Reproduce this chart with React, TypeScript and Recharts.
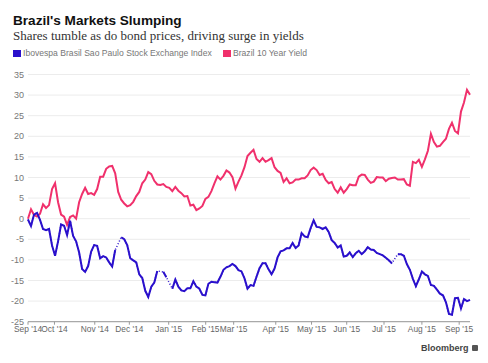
import React from 'react';
import { LineChart, Line, XAxis, YAxis, CartesianGrid } from 'recharts';

// % change since start, sampled along the time axis (one value per step)
const ibovespa = [
  -0.2, -1.8, 1.0, 1.4, -0.3, -2.5, -2.8, -2.5, -6.5, -9,
  -5.5, -1.4, -1.7, -4, -0.5, -4.2, -5.5, -8.2, -12.2, -12.9,
  -11.5, -8, -6.4, -6.6, -9.6, -9.1, -9.4, -10.6, -11.6, -7.6,
  null, -4.5, -5, -6.4, -9.6, -10.1, -10.6, -13.5, -14.4, -17.5,
  -19, -16.5, -15.5, -12.7, null, -12.9, -14.2, null, -17, -14.8,
  -16.5, -17.4, -17.6, -16.9, -16.9, -15.2, -16.5, -17, -18.5, -18.6,
  -15.8, -15.3, -15.4, -15.5, -14.1, -12.4, -11.8, -11.5, -11, -11.5,
  -12.5, -12.8, -14.5, -17, -16.1, -16.3, -14.1, -12, -10.8, -10.8,
  -12.3, -13.5, -12.1, -9.4, -7.9, -7.7, -7.2, -7.2, -5.9, -7.1,
  -6.5, -3.5, -4.3, -4.5, -2.3, -0.4, -2, -2.1, -2.5, -2.1,
  -3.2, -5.2, -5.9, -7, -6.5, -9.2, -9, -8.2, -9.3, -8.4,
  -7.8, -8.6, -7.9, -6.9, -7.5, -7.6, -8.3, -8.6, -8.9, -9.5,
  -10.1, -10.8, null, -8.6, -8.6, -9, -11, -12.4, -14.6, -16.4,
  -14.7, -12.8, -13.5, -13.9, -16.1, -16.3, -17.2, -18.2, -18.6, -20.3,
  -23.1, -23.3, -19.3, -19.2, -21.8, -19.5, -20, -19.7,
];

const brazil10y = [
  0, 2.3, 0.9, 0.5, 1.2, 3.5, 2.6, 3.3, 7.2, 8.6,
  4, 1, 0.5, -1.5, 0.4, 0.8, 0, 4, 6, 7.5,
  6, 6.2, 5.8, 7.2, 10.2, 10.2, 12.1, 12.7, 12.8, 11,
  6.5, 4.6, 3.7, 3, 3.3, 4.1, 5.5, 6.5, 8.6, 9.5,
  11.3, 10.8, 9.2, 8.3, 8.2, 8.4, 7.7, 7.5, 6.7, 7.7,
  6.8, 6.2, 5.4, 5.5, 3.2, 3.4, 2.1, 2.5, 3.1, 4.8,
  5.3, 6.7, 8.6, 10.3, 9.5, 10.4, 11.7, 11.2, 10.1, 7.3,
  9, 10.5, 12.5, 15.2, 16, 16.7, 14.5, 13.8, 14.7, 13.8,
  14.2, 14.7, 12.5, 11.6, 11.1, 8.9, 9.8, 8.6, 8.8, 9.5,
  9.5, 9.8, 9.8, 10.5, 11.8, 12.4, 11.8, 10.6, 10.9, 9.4,
  8.6, 8.9, 7.2, 6.3, 7.6, 6.3, 7.2, 8.3, 8.1, 8.1,
  10.2, 10.7, 10.6, 9.5, 8.7, 9, 10.1, 10, 10, 9.1,
  9.7, 9.9, 10, 9.5, 9.5, 9.6, 8.3, 8, 13.8, 13.5,
  14.3, 12.6, 14.4, 16.5, 20.6, 18.6, 17.5, 17.7, 18.6, 19.4,
  21.8, 23.3, 21.3, 20.7, 26, 28.2, 31.3, 30.1,
];

const tickPos = [0, 8.8, 22.2, 33.7, 46.8, 59.1, 68.4, 82.4, 94.3, 106, 118.4, 131, 143.4];
const tickLabels = [
  "Sep '14", "Oct '14", "Nov '14", "Dec '14", "Jan '15", "Feb '15", "Mar '15",
  "Apr '15", "May '15", "Jun '15", "Jul '15", "Aug '15", "Sep '15",
];
const yTicks = [-25, -20, -15, -10, -5, 0, 5, 10, 15, 20, 25, 30, 35];

const BLUE = '#2a10cc';
const PINK = '#f0306c';

const data = ibovespa.map((v, i) => ({ t: i, ibov: v, yld: brazil10y[i] }));

const sans = '"Liberation Sans", Arial, sans-serif';

export default function App() {
  const fmtTick = (v: number) => {
    const k = tickPos.indexOf(v);
    return k >= 0 ? tickLabels[k] : '';
  };

  return (
    <div style={{ position: 'absolute', left: 0, top: 0, width: 488, height: 363, background: '#fff', fontFamily: sans }}>
      <div style={{ position: 'absolute', left: 13, top: 14, fontSize: 13.6, lineHeight: '14px', fontWeight: 700, color: '#111' }}>
        Brazil's Markets Slumping
      </div>
      <div style={{ position: 'absolute', left: 13, top: 29, fontSize: 13, lineHeight: '13px', color: '#333', fontFamily: '"Liberation Serif", "Times New Roman", serif' }}>
        Shares tumble as do bond prices, driving surge in yields
      </div>
      <div style={{ position: 'absolute', left: 13, top: 50, width: 8, height: 7, background: BLUE }} />
      <div style={{ position: 'absolute', left: 23, top: 49, fontSize: 8.6, lineHeight: '9px', color: '#777' }}>
        Ibovespa Brasil Sao Paulo Stock Exchange Index
      </div>
      <div style={{ position: 'absolute', left: 223, top: 50, width: 8, height: 7, background: PINK }} />
      <div style={{ position: 'absolute', left: 233, top: 49, fontSize: 8.6, lineHeight: '9px', color: '#777' }}>
        Brazil 10 Year Yield
      </div>

      <div style={{ position: 'absolute', left: 0, top: 0 }}>
        <LineChart width={488} height={363} data={data} margin={{ top: 74.5, right: 18, bottom: 21.3, left: 0 }}>
          <CartesianGrid vertical={false} stroke="#ececec" />
          <XAxis
            dataKey="t"
            type="number"
            domain={[0, 147]}
            ticks={tickPos}
            interval={0}
            tickFormatter={fmtTick}
            stroke="#999"
            tickSize={3}
            tickMargin={1}
            height={20}
            tick={{ fontSize: 8.4, fill: '#666', fontFamily: sans }}
          />
          <YAxis
            domain={[-25, 35]}
            ticks={yTicks}
            width={28}
            axisLine={false}
            tickLine={false}
            tickSize={0}
            tickMargin={4}
            interval={0}
            tick={{ fontSize: 9, fill: '#777', fontFamily: sans }}
          />
          <Line type="linear" dataKey="yld" stroke={PINK} strokeWidth={2} dot={false} isAnimationActive={false} />
          <Line type="linear" dataKey="ibov" stroke={BLUE} strokeWidth={1.5} strokeDasharray="1 2" dot={false} connectNulls isAnimationActive={false} />
          <Line type="linear" dataKey="ibov" stroke={BLUE} strokeWidth={2} dot={false} isAnimationActive={false} />
        </LineChart>
      </div>

      <div style={{ position: 'absolute', left: 421, top: 344, fontSize: 9, lineHeight: '9px', fontWeight: 700, color: '#444' }}>
        Bloomberg
      </div>
      <div style={{ position: 'absolute', left: 472, top: 345, width: 6, height: 6, background: '#555', borderRadius: 1 }} />
    </div>
  );
}
